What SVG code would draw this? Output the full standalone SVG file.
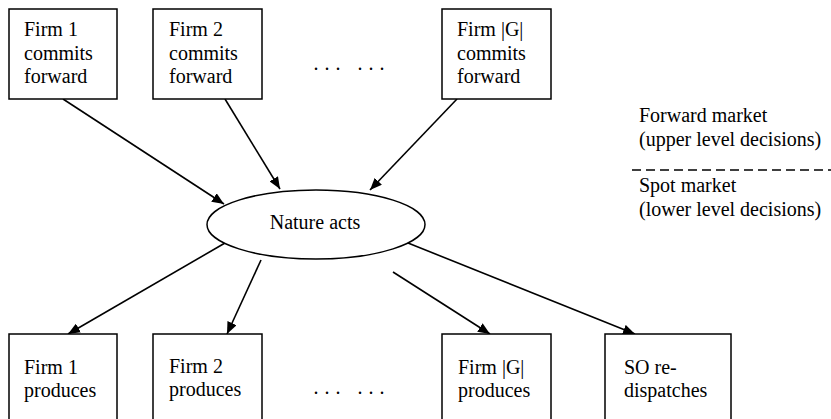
<svg xmlns="http://www.w3.org/2000/svg" width="831" height="419" viewBox="0 0 831 419">
<defs>
<style>
text{font-family:"Liberation Serif","Times New Roman",serif;font-size:20px;fill:#000}
.box{fill:#fff;stroke:#000;stroke-width:1.5}
.edge{stroke:#000;stroke-width:1.6;fill:none;marker-end:url(#arr)}
</style>
<marker id="arr" viewBox="0 0 12 10" refX="12" refY="5" markerWidth="12" markerHeight="10" markerUnits="userSpaceOnUse" orient="auto">
<path d="M0,0 L12,5 L0,10 z" fill="#000"/>
</marker>
</defs>
<rect width="831" height="419" fill="#fff"/>
<g id="connectors">
<line class="edge" x1="63" y1="99" x2="224" y2="204"/>
<line class="edge" x1="225" y1="99" x2="280" y2="189"/>
<line class="edge" x1="457" y1="99" x2="370" y2="190"/>
<line class="edge" x1="225" y1="243" x2="68" y2="334"/>
<line class="edge" x1="261" y1="260" x2="227" y2="334"/>
<line class="edge" x1="393" y1="272" x2="490" y2="334"/>
<line class="edge" x1="408" y1="243" x2="635" y2="334"/>
</g>
<g id="firm1-forward">
<rect class="box" x="9" y="9" width="108" height="90"/>
<text x="24" y="36">Firm 1</text>
<text x="24" y="60">commits</text>
<text x="24" y="83">forward</text>
</g>
<g id="firm2-forward">
<rect class="box" x="153" y="9" width="109" height="90"/>
<text x="169" y="36">Firm 2</text>
<text x="169" y="60">commits</text>
<text x="169" y="83">forward</text>
</g>
<g id="dots-top">
<text x="313.5" y="70" letter-spacing="6">... ...</text>
</g>
<g id="firmG-forward">
<rect class="box" x="442" y="9" width="109" height="90"/>
<text x="457" y="36">Firm |G|</text>
<text x="457" y="60">commits</text>
<text x="457" y="83">forward</text>
</g>
<g id="nature">
<ellipse cx="316" cy="224.5" rx="109" ry="34.5" fill="#fff" stroke="#000" stroke-width="1.5"/>
<text x="315" y="229" text-anchor="middle">Nature acts</text>
</g>
<g id="legend">
<text x="639" y="122">Forward market</text>
<text x="639" y="146">(upper level decisions)</text>
<line x1="632" y1="170" x2="831" y2="170" stroke="#000" stroke-width="1.3" stroke-dasharray="9,5"/>
<text x="639" y="192">Spot market</text>
<text x="639" y="216">(lower level decisions)</text>
</g>
<g id="firm1-produces">
<rect class="box" x="9" y="334" width="108" height="100"/>
<text x="24" y="374">Firm 1</text>
<text x="24" y="397">produces</text>
</g>
<g id="firm2-produces">
<rect class="box" x="153" y="334" width="109" height="100"/>
<text x="169" y="373">Firm 2</text>
<text x="169" y="396">produces</text>
</g>
<g id="dots-bottom">
<text x="313.5" y="394" letter-spacing="6">... ...</text>
</g>
<g id="firmG-produces">
<rect class="box" x="442" y="334" width="109" height="100"/>
<text x="458" y="374">Firm |G|</text>
<text x="458" y="397">produces</text>
</g>
<g id="so-redispatches">
<rect class="box" x="605" y="334" width="126" height="100"/>
<text x="624" y="374">SO re-</text>
<text x="624" y="397">dispatches</text>
</g>
</svg>
